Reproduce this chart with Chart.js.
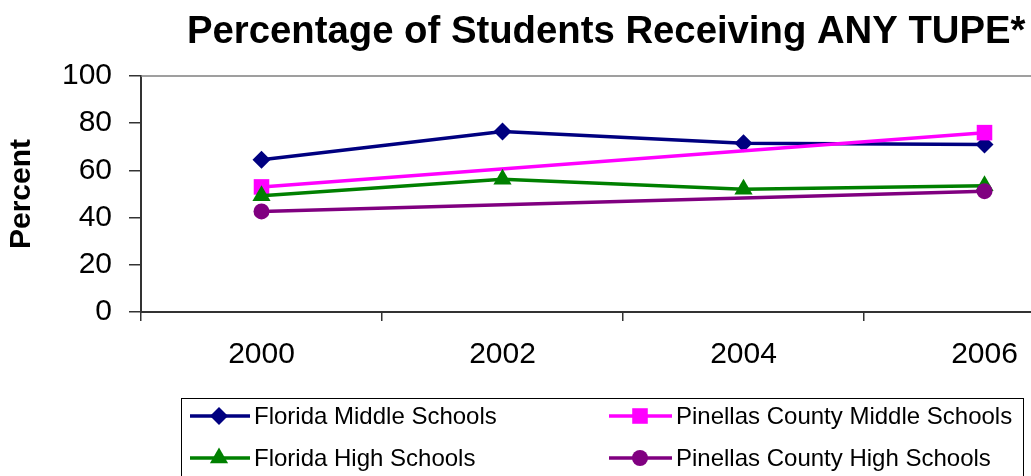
<!DOCTYPE html>
<html>
<head>
<meta charset="utf-8">
<script src="https://cdn.jsdelivr.net/npm/chart.js@4/dist/chart.umd.min.js"></script>
<style>
  html, body { margin: 0; padding: 0; background: #fff; overflow: hidden; }
  #wrap { width: 1031px; height: 476px; overflow: hidden; position: relative; }
  #box { width: 1116px; height: 476px; position: absolute; left: 0; top: 0; }
</style>
</head>
<body>
<div id="wrap"><div id="box"><canvas id="c"></canvas></div></div>
<script>
const chartTitle = "Percentage of Students Receiving ANY TUPE*";
const yAxisTitle = "Percent";
const years = ["2000", "2002", "2004", "2006"];
const yTicks = [0, 20, 40, 60, 80, 100];
const seriesNames = ["Florida Middle Schools", "Pinellas County Middle Schools", "Florida High Schools", "Pinellas County High Schools"];
const floridaMiddle = [64.5, 76.5, 71.5, 71];
const pinellasMiddle = [53, null, null, 76];
const floridaHigh = [49.3, 56.2, 52, 53.5];
const pinellasHigh = [42.6, null, null, 51.2];
const seriesColors = ["#000080", "#FF00FF", "#008000", "#800080"];
const seriesMarkers = ["rectRot", "rect", "triangle", "circle"];
const markerRadii = [9, 11, 10.5, 8];

const FONT = "'Liberation Sans', Arial, sans-serif";

function drawMarker(ctx, style, x, y, r, color) {
  ctx.save();
  ctx.fillStyle = color;
  ctx.beginPath();
  if (style === 'rectRot') {
    ctx.moveTo(x - r, y); ctx.lineTo(x, y - r); ctx.lineTo(x + r, y); ctx.lineTo(x, y + r); ctx.closePath();
  } else if (style === 'rect') {
    const s = r * Math.SQRT1_2;
    ctx.rect(x - s, y - s, 2 * s, 2 * s);
  } else if (style === 'triangle') {
    ctx.moveTo(x, y - r);
    ctx.lineTo(x + r * Math.sin(Math.PI * 2 / 3), y - r * Math.cos(Math.PI * 2 / 3));
    ctx.lineTo(x - r * Math.sin(Math.PI * 2 / 3), y - r * Math.cos(Math.PI * 2 / 3));
    ctx.closePath();
  } else {
    ctx.arc(x, y, r, 0, Math.PI * 2);
  }
  ctx.fill();
  ctx.restore();
}

const decorPlugin = {
  id: 'decor',
  beforeDatasetsDraw(chart) {
    const ctx = chart.ctx, a = chart.chartArea;
    ctx.save();
    ctx.strokeStyle = '#808080';
    ctx.lineWidth = 1.5;
    ctx.beginPath();
    ctx.moveTo(a.left, a.top); ctx.lineTo(a.right, a.top); ctx.lineTo(a.right, a.bottom);
    ctx.stroke();
    ctx.restore();
  },
  afterDraw(chart) {
    const ctx = chart.ctx;
    ctx.save();
    ctx.fillStyle = '#000';
    ctx.font = "bold 38.3px " + FONT;
    ctx.textAlign = 'left';
    ctx.textBaseline = 'alphabetic';
    ctx.fillText(chartTitle, 187, 43);
    ctx.strokeStyle = '#000';
    ctx.lineWidth = 1;
    ctx.strokeRect(181.5, 398.5, 842, 90);
    const cols = [{x0: 190, x1: 250, mx: 219, tx: 254}, {x0: 609, x1: 672, mx: 640, tx: 676}];
    const rows = [416, 458];
    ctx.font = "24px " + FONT;
    ctx.textBaseline = 'middle';
    chart.data.datasets.forEach((ds, i) => {
      const c = cols[i % 2], ry = rows[Math.floor(i / 2)];
      ctx.strokeStyle = ds.borderColor;
      ctx.lineWidth = 3.5;
      ctx.beginPath(); ctx.moveTo(c.x0, ry); ctx.lineTo(c.x1, ry); ctx.stroke();
      drawMarker(ctx, seriesMarkers[i], c.mx, ry, markerRadii[i], ds.borderColor);
      ctx.fillStyle = '#000';
      ctx.fillText(ds.label, c.tx, ry + 1);
    });
    ctx.restore();
  }
};

const seriesData = [floridaMiddle, pinellasMiddle, floridaHigh, pinellasHigh];
const datasets = seriesData.map((d, i) => ({
  label: seriesNames[i],
  data: d,
  borderColor: seriesColors[i],
  backgroundColor: seriesColors[i],
  borderWidth: 3.5,
  pointStyle: seriesMarkers[i],
  pointRadius: markerRadii[i],
  pointHoverRadius: markerRadii[i],
  pointBorderWidth: 0,
  pointBackgroundColor: seriesColors[i],
  spanGaps: true,
  tension: 0,
  order: 4 - i
}));

new Chart(document.getElementById('c'), {
  type: 'line',
  data: { labels: years, datasets },
  options: {
    responsive: true,
    maintainAspectRatio: false,
    animation: false,
    events: [],
    layout: { padding: { top: 76, right: 5, bottom: 100, left: 0 } },
    plugins: { legend: { display: false }, title: { display: false }, tooltip: { enabled: false } },
    scales: {
      x: {
        offset: true,
        grid: { offset: true, drawOnChartArea: false, tickLength: 9, color: '#333', lineWidth: 1.5 },
        border: { color: '#333', width: 2 },
        ticks: { color: '#000', font: { family: FONT, size: 30 }, padding: 16, maxRotation: 0 },
        afterFit(s) { s.height = 64; }
      },
      y: {
        min: 0, max: 100,
        afterBuildTicks(s) { s.ticks = yTicks.map(v => ({ value: v })); },
        grid: { drawOnChartArea: false, tickLength: 12, color: '#333', lineWidth: 1.5 },
        border: { color: '#333', width: 2 },
        ticks: { color: '#000', font: { family: FONT, size: 30 }, padding: 17 },
        title: { display: true, text: yAxisTitle, color: '#000', font: { family: FONT, size: 30, weight: 'bold' }, padding: { top: 4, bottom: 0 } },
        afterFit(s) { s.width = 141; }
      }
    }
  },
  plugins: [decorPlugin]
});
</script>
</body>
</html>
